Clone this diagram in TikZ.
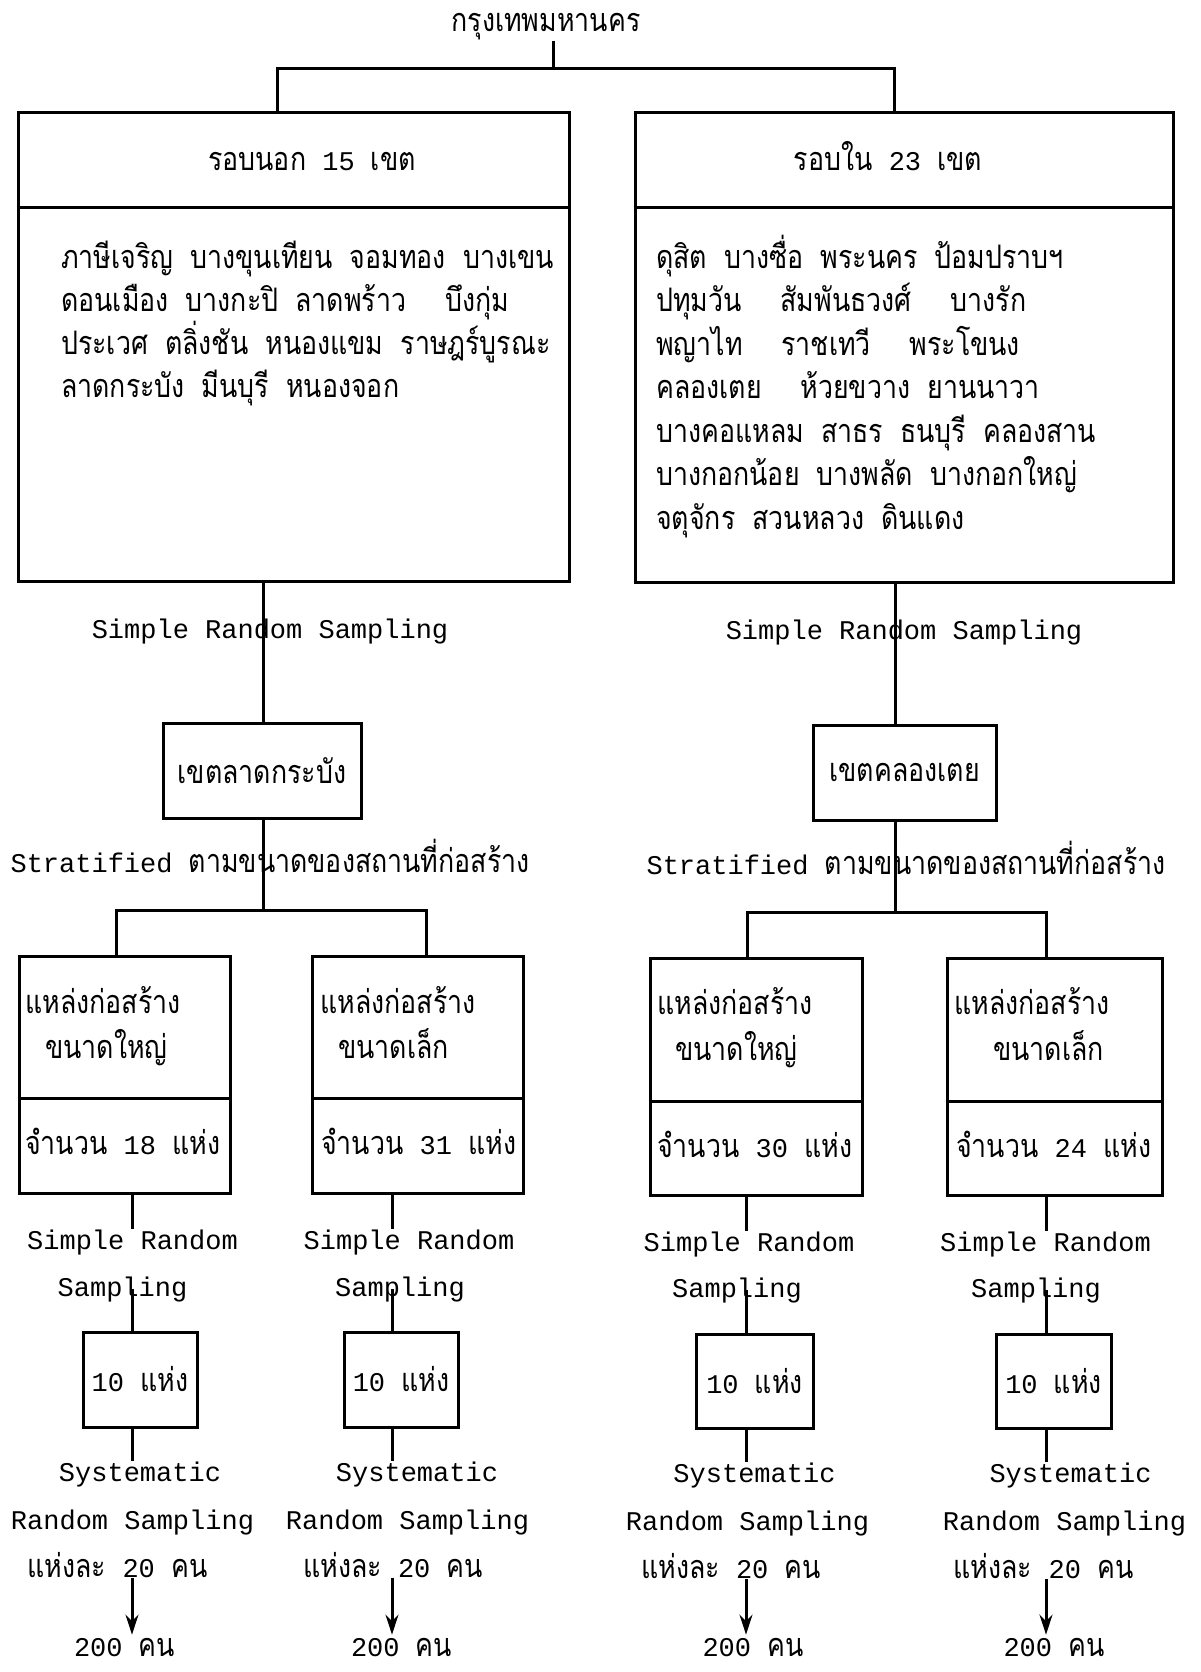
\documentclass[tikz,border=0pt]{standalone}
\usepackage{fontspec}
\setmainfont{Liberation Mono}
\newfontfamily\thaifont[Script=Thai,Scale=1.2,FakeStretch=0.825,WordSpace=1.9]{Loma}
\usetikzlibrary{arrows.meta}
\newcommand{\thx}[1]{{\thaifont #1}}
\newcommand{\fs}{\fontsize{27}{30}\selectfont}
\begin{document}
\begin{tikzpicture}[x=1pt,y=-1pt,
  ln/.style={line width=3pt},
  box/.style={draw, line width=3pt, inner sep=0pt, font=\fs},
  txt/.style={inner sep=0pt, anchor=base, font=\fs},
  txtw/.style={inner sep=0pt, anchor=base west, font=\fs},
  arr/.style={line width=3pt, shorten >=3pt, shorten <=1pt, -{Stealth[length=20pt,width=13pt]}}]
\fill[white] (0,0) rectangle (1201,1672);
\useasboundingbox (0,0) rectangle (1201,1672);

% title and top split
\node[txt] (title) at (546,32) {\thx{กรุงเทพมหานคร}};
\coordinate (tC) at (553,69);
\coordinate (tL) at (277,69);
\coordinate (tR) at (894,69);

% big boxes
\node[box, minimum width=551pt, minimum height=468pt] (outL) at (293.5,347) {};
\node[box, minimum width=538pt, minimum height=469pt] (outR) at (904,347.5) {};
\draw[ln] (outL.west |- 0,207) -- (outL.east |- 0,207);
\draw[ln] (outR.west |- 0,207) -- (outR.east |- 0,207);
\node[txt] (hL) at (312,171) {\thx{รอบนอก} 15 \thx{เขต}};
\node[txt] (hR) at (888,171) {\thx{รอบใน} 23 \thx{เขต}};

\draw[ln] (title.south -| tC) -- (tC);
\draw[ln] (outL.north -| tL) -- (tL) -- (tR) -- (outR.north -| tR);

% left body
\node[txtw] (bl1) at (61,268) {\thx{ภาษีเจริญ บางขุนเทียน จอมทอง บางเขน}};
\node[txtw] (bl2) at (61,311) {\thx{ดอนเมือง บางกะปิ ลาดพร้าว\hspace{1.2em}บึงกุ่ม}};
\node[txtw] (bl3) at (61,354) {\thx{ประเวศ ตลิ่งชัน หนองแขม ราษฎร์บูรณะ}};
\node[txtw] (bl4) at (61,397) {\thx{ลาดกระบัง มีนบุรี หนองจอก}};
% right body
\node[txtw] (br1) at (656,268) {\thx{ดุสิต บางซื่อ พระนคร ป้อมปราบฯ}};
\node[txtw] (br2) at (656,311.5) {\thx{ปทุมวัน\hspace{1.2em}สัมพันธวงศ์\hspace{1.2em}บางรัก}};
\node[txtw] (br3) at (656,355) {\thx{พญาไท\hspace{1.2em}ราชเทวี\hspace{1.2em}พระโขนง}};
\node[txtw] (br4) at (656,398.5) {\thx{คลองเตย\hspace{1.2em}ห้วยขวาง ยานนาวา}};
\node[txtw] (br5) at (656,442) {\thx{บางคอแหลม สาธร ธนบุรี คลองสาน}};
\node[txtw] (br6) at (656,485.5) {\thx{บางกอกน้อย บางพลัด บางกอกใหญ่}};
\node[txtw] (br7) at (656,529) {\thx{จตุจักร สวนหลวง ดินแดง}};

% second level
\node[txt] (srsL) at (270,638) {Simple Random Sampling};
\node[txt] (srsR) at (904,639) {Simple Random Sampling};
\node[box, minimum width=198pt, minimum height=95pt] (kL) at (262,770.5) {\thx{เขตลาดกระบัง}};
\node[box, minimum width=183pt, minimum height=95pt] (kR) at (904.5,772.5) {\thx{เขตคลองเตย}};
\coordinate (vL) at (263,0);
\coordinate (vR) at (895,0);
\draw[ln] (outL.south -| vL) -- (kL.north -| vL);
\draw[ln] (outR.south -| vR) -- (kR.north -| vR);

\node[txt] (stL) at (270,872) {Stratified \thx{ตามขนาดของสถานที่ก่อสร้าง}};
\node[txt] (stR) at (906,874) {Stratified \thx{ตามขนาดของสถานที่ก่อสร้าง}};
\coordinate (sL) at (263,910);
\coordinate (sLa) at (116,910);
\coordinate (sLb) at (426,910);
\coordinate (sR) at (895,912);
\coordinate (sRa) at (747,912);
\coordinate (sRb) at (1046,912);

% third level boxes
\node[box, minimum width=211pt, minimum height=237pt] (LL) at (124.5,1074.5) {};
\node[box, minimum width=211pt, minimum height=237pt] (LS) at (417.5,1074.5) {};
\node[box, minimum width=212pt, minimum height=237pt] (RL) at (756,1076.5) {};
\node[box, minimum width=215pt, minimum height=237pt] (RS) at (1054.5,1076.5) {};
\draw[ln] (LL.west |- 0,1098) -- (LL.east |- 0,1098);
\draw[ln] (LS.west |- 0,1098) -- (LS.east |- 0,1098);
\draw[ln] (RL.west |- 0,1101) -- (RL.east |- 0,1101);
\draw[ln] (RS.west |- 0,1101) -- (RS.east |- 0,1101);

\draw[ln] (kL.south -| vL) -- (sL);
\draw[ln] (kR.south -| vR) -- (sR);
\draw[ln] (LL.north -| sLa) -- (sLa) -- (sLb) -- (LS.north -| sLb);
\draw[ln] (RL.north -| sRa) -- (sRa) -- (sRb) -- (RS.north -| sRb);

\node[txtw] (LL1) at (25,1013) {\thx{แหล่งก่อสร้าง}};
\node[txtw] (LL2) at (45,1058) {\thx{ขนาดใหญ่}};
\node[txtw] (LL3) at (25,1154) {\thx{จำนวน} 18 \thx{แห่ง}};
\node[txtw] (LS1) at (320,1013) {\thx{แหล่งก่อสร้าง}};
\node[txtw] (LS2) at (338,1058) {\thx{ขนาดเล็ก}};
\node[txtw] (LS3) at (321,1154) {\thx{จำนวน} 31 \thx{แห่ง}};
\node[txtw] (RL1) at (657,1014) {\thx{แหล่งก่อสร้าง}};
\node[txtw] (RL2) at (675,1060) {\thx{ขนาดใหญ่}};
\node[txtw] (RL3) at (657,1157) {\thx{จำนวน} 30 \thx{แห่ง}};
\node[txtw] (RS1) at (954,1014) {\thx{แหล่งก่อสร้าง}};
\node[txtw] (RS2) at (993,1060) {\thx{ขนาดเล็ก}};
\node[txtw] (RS3) at (956,1157) {\thx{จำนวน} 24 \thx{แห่ง}};

% fourth level, four columns
\coordinate (v1) at (132,0);
\coordinate (v2) at (392,0);
\coordinate (v3) at (746,0);
\coordinate (v4) at (1046,0);

\node[txt] (a1) at (132.5,1249) {Simple Random};
\node[txt] (a2) at (409,1249) {Simple Random};
\node[txt] (a3) at (749,1251) {Simple Random};
\node[txt] (a4) at (1045.5,1251) {Simple Random};
\node[txt] (m1) at (122.5,1296) {Sampling};
\node[txt] (m2) at (400,1296) {Sampling};
\node[txt] (m3) at (737,1297) {Sampling};
\node[txt] (m4) at (1036,1297) {Sampling};

\node[box, minimum width=114pt, minimum height=95pt] (b1) at (140,1379.5) {10 \thx{แห่ง}};
\node[box, minimum width=114pt, minimum height=95pt] (b2) at (401,1379.5) {10 \thx{แห่ง}};
\node[box, minimum width=117pt, minimum height=94pt] (b3) at (754.5,1381) {10 \thx{แห่ง}};
\node[box, minimum width=115pt, minimum height=94pt] (b4) at (1053.5,1381) {10 \thx{แห่ง}};

\node[txt] (c1) at (140,1481) {Systematic};
\node[txt] (c2) at (417,1481) {Systematic};
\node[txt] (c3) at (754.5,1482) {Systematic};
\node[txt] (c4) at (1070.5,1482) {Systematic};
\node[txt] (d1) at (132.5,1529) {Random Sampling};
\node[txt] (d2) at (407.5,1529) {Random Sampling};
\node[txt] (d3) at (747.5,1530) {Random Sampling};
\node[txt] (d4) at (1064.5,1530) {Random Sampling};
\node[txt] (e1) at (117.5,1577) {\thx{แห่งละ} 20 \thx{คน}};
\node[txt] (e2) at (393,1577) {\thx{แห่งละ} 20 \thx{คน}};
\node[txt] (e3) at (731,1578) {\thx{แห่งละ} 20 \thx{คน}};
\node[txt] (e4) at (1043.5,1578) {\thx{แห่งละ} 20 \thx{คน}};
\node[txt] (f1) at (124.5,1656) {200 \thx{คน}};
\node[txt] (f2) at (401.5,1656) {200 \thx{คน}};
\node[txt] (f3) at (753,1656) {200 \thx{คน}};
\node[txt] (f4) at (1054,1656) {200 \thx{คน}};

\foreach \k/\b in {1/LL,2/LS,3/RL,4/RS}{
  \draw[ln] (\b.south -| v\k) -- (a\k.north -| v\k);
  \draw[ln] (m\k.center -| v\k) -- (b\k.north -| v\k);
  \draw[ln] (b\k.south -| v\k) -- (c\k.north -| v\k);
  \draw[arr] (e\k.south -| v\k) -- (f\k.north -| v\k);
}
\end{tikzpicture}
\end{document}
